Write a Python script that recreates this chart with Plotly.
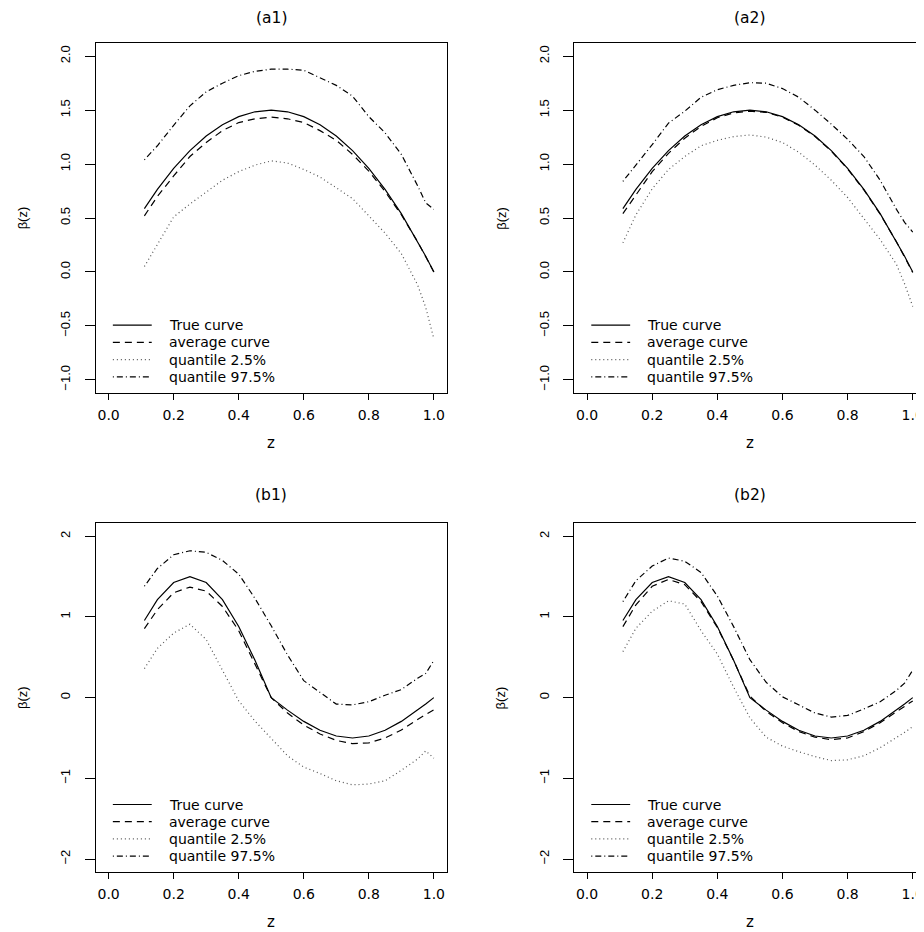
import plotly.graph_objects as go

# ---------------- data ----------------
Z = [0.11, 0.15, 0.20, 0.25, 0.30, 0.35, 0.40, 0.45, 0.50, 0.55,
     0.60, 0.65, 0.70, 0.75, 0.80, 0.85, 0.90, 0.95, 0.975, 1.00]

A_TRUE = [0.587, 0.765, 0.96, 1.125, 1.26, 1.365, 1.44, 1.485, 1.50, 1.485,
          1.44, 1.365, 1.26, 1.125, 0.96, 0.765, 0.54, 0.285, 0.146, 0.0]
A1_AVG = [0.52, 0.70, 0.89, 1.07, 1.20, 1.31, 1.385, 1.42, 1.435, 1.42,
          1.385, 1.31, 1.22, 1.09, 0.935, 0.745, 0.53, 0.28, 0.14, 0.0]
A1_LO = [0.05, 0.26, 0.51, 0.63, 0.74, 0.85, 0.93, 0.99, 1.03, 1.01,
         0.95, 0.88, 0.78, 0.68, 0.52, 0.36, 0.17, -0.12, -0.33, -0.62]
A1_HI = [1.04, 1.17, 1.36, 1.54, 1.67, 1.75, 1.82, 1.86, 1.88, 1.88,
         1.87, 1.80, 1.73, 1.63, 1.44, 1.29, 1.09, 0.80, 0.64, 0.58]

A2_AVG = [0.54, 0.71, 0.93, 1.10, 1.24, 1.35, 1.43, 1.475, 1.49, 1.48,
          1.435, 1.36, 1.255, 1.12, 0.955, 0.76, 0.535, 0.28, 0.14, -0.005]
A2_LO = [0.27, 0.53, 0.77, 0.95, 1.07, 1.17, 1.22, 1.255, 1.27, 1.25,
         1.20, 1.11, 0.99, 0.85, 0.69, 0.50, 0.30, 0.07, -0.11, -0.32]
A2_HI = [0.84, 0.99, 1.18, 1.38, 1.49, 1.62, 1.69, 1.73, 1.755, 1.75,
         1.70, 1.62, 1.50, 1.37, 1.23, 1.07, 0.85, 0.58, 0.46, 0.37]

B_TRUE = [0.956, 1.2135, 1.4266, 1.5, 1.4266, 1.2135, 0.8817, 0.4635, 0.0, -0.1545,
          -0.2939, -0.4045, -0.4755, -0.5, -0.4755, -0.4045, -0.2939, -0.1545, -0.0782, 0.0]
B1_AVG = [0.855, 1.09, 1.30, 1.37, 1.32, 1.13, 0.83, 0.42, 0.0, -0.19,
          -0.34, -0.45, -0.53, -0.57, -0.56, -0.50, -0.40, -0.27, -0.21, -0.15]
B1_LO = [0.36, 0.61, 0.80, 0.91, 0.72, 0.33, -0.04, -0.29, -0.51, -0.72,
         -0.86, -0.94, -1.03, -1.08, -1.07, -1.03, -0.90, -0.76, -0.66, -0.75]
B1_HI = [1.38, 1.60, 1.77, 1.82, 1.80, 1.70, 1.53, 1.23, 0.89, 0.53,
         0.21, 0.06, -0.08, -0.09, -0.05, 0.03, 0.10, 0.24, 0.30, 0.46]

B2_AVG = [0.88, 1.15, 1.38, 1.465, 1.40, 1.19, 0.87, 0.46, 0.02, -0.17,
          -0.31, -0.42, -0.49, -0.52, -0.50, -0.42, -0.31, -0.17, -0.10, -0.04]
B2_LO = [0.57, 0.86, 1.07, 1.20, 1.16, 0.83, 0.54, 0.13, -0.25, -0.49,
         -0.60, -0.67, -0.73, -0.78, -0.77, -0.72, -0.62, -0.50, -0.43, -0.36]
B2_HI = [1.19, 1.45, 1.63, 1.73, 1.69, 1.55, 1.26, 0.88, 0.47, 0.19,
         0.01, -0.09, -0.19, -0.24, -0.22, -0.14, -0.05, 0.09, 0.18, 0.34]

SERIES_NAMES = ["True curve", "average curve", "quantile 2.5%", "quantile 97.5%"]
PANEL_TITLES = ["(a1)", "(a2)", "(b1)", "(b2)"]
X_TICKS = [0.0, 0.2, 0.4, 0.6, 0.8, 1.0]
X_TICK_TEXT = ["0.0", "0.2", "0.4", "0.6", "0.8", "1.0"]
A_Y_TICKS = [-1.0, -0.5, 0.0, 0.5, 1.0, 1.5, 2.0]
A_Y_TICK_TEXT = ["\u22121.0", "\u22120.5", "0.0", "0.5", "1.0", "1.5", "2.0"]
B_Y_TICKS = [-2, -1, 0, 1, 2]
B_Y_TICK_TEXT = ["\u22122", "\u22121", "0", "1", "2"]

# ---------------- layout geometry ----------------
# the page body has an 8px margin, so the figure is offset by 8px
OFF = 8
W, H = 924 - OFF, 932 - OFF
FONT = "DejaVu Sans"
DASHES = ["solid", "7px,5px", "1px,3px", "1px,3px,6px,3px"]
COLORS = ["black", "black", "#555555", "black"]


def px(v):
    return v / W


def py(v):
    return 1 - v / H


panels = [
    dict(series=[A_TRUE, A1_AVG, A1_LO, A1_HI], xbox=(95.9, 448.3), ybox=(43.3, 392.7), ty=17.5,
         xr=[-0.04, 1.04], yr=[-1.12, 2.12], yt=A_Y_TICKS, ytt=A_Y_TICK_TEXT, full=True),
    dict(series=[A_TRUE, A2_AVG, A2_LO, A2_HI], xbox=(575.9, 924.0), ybox=(43.3, 392.7), ty=17.5,
         xr=[-0.04, 1.0254], yr=[-1.12, 2.12], yt=A_Y_TICKS, ytt=A_Y_TICK_TEXT, full=False),
    dict(series=[B_TRUE, B1_AVG, B1_LO, B1_HI], xbox=(95.9, 448.3), ybox=(523.3, 872.0), ty=495.0,
         xr=[-0.04, 1.04], yr=[-2.16, 2.16], yt=B_Y_TICKS, ytt=B_Y_TICK_TEXT, full=True),
    dict(series=[B_TRUE, B2_AVG, B2_LO, B2_HI], xbox=(575.9, 924.0), ybox=(523.3, 872.0), ty=495.0,
         xr=[-0.04, 1.0254], yr=[-2.16, 2.16], yt=B_Y_TICKS, ytt=B_Y_TICK_TEXT, full=False),
]

fig = go.Figure()
layout = dict(
    width=W, height=H, margin=dict(l=0, r=0, t=0, b=0),
    paper_bgcolor="white", plot_bgcolor="white", showlegend=False,
    font=dict(family=FONT, color="black", size=14),
)
annotations = []
shapes = []

for i, p in enumerate(panels):
    k = "" if i == 0 else str(i + 1)
    xa, ya = "x" + k, "y" + k
    x0, x1 = p["xbox"][0] - OFF, min(p["xbox"][1] - OFF, W)
    y0, y1 = p["ybox"][0] - OFF, p["ybox"][1] - OFF
    for j, (name, vals) in enumerate(zip(SERIES_NAMES, p["series"])):
        fig.add_trace(go.Scatter(
            x=Z, y=vals, mode="lines", name=name, xaxis=xa, yaxis=ya,
            line=dict(color=COLORS[j], width=1.2, dash=DASHES[j]),
            hoverinfo="skip",
        ))
        # legend entry (sample line + label), R-style legend inside the box
        ry = y1 - 67.5 + 17.2 * j
        shapes.append(dict(type="line", xref="paper", yref="paper",
                           x0=px(x0 + 17.3), x1=px(x0 + 56.3), y0=py(ry), y1=py(ry),
                           line=dict(color=COLORS[j], width=1.2, dash=DASHES[j])))
        annotations.append(dict(text=name, x=px(x0 + 72.5), y=py(ry), xref="paper", yref="paper",
                                xanchor="left", yanchor="middle", showarrow=False, borderpad=0,
                                font=dict(family=FONT, size=14, color="black")))
    layout["xaxis" + k] = dict(
        domain=[px(x0), px(x1)], range=p["xr"], anchor=ya, showgrid=False, zeroline=False,
        showline=True, linecolor="black", linewidth=1, mirror=True,
        ticks="outside", ticklen=6, tickwidth=1, tickcolor="black",
        tickvals=X_TICKS, ticktext=X_TICK_TEXT, ticklabeloverflow="allow",
        ticklabelstandoff=3,
        tickfont=dict(family=FONT, size=14, color="black"),
    )
    layout["yaxis" + k] = dict(
        domain=[py(y1), py(y0)], range=p["yr"], anchor=xa, showgrid=False, zeroline=False,
        showline=True, linecolor="black", linewidth=1, mirror=p["full"],
        ticks="outside", ticklen=10, tickwidth=1, tickcolor="black",
        tickvals=p["yt"], ticktext=p["ytt"], tickangle=-90, ticklabelstandoff=9,
        tickfont=dict(family="Liberation Sans", size=13, color="black"),
    )
    cx = (x0 + x0 + 352.4) / 2
    annotations.append(dict(text=PANEL_TITLES[i], x=px(cx), y=py(p["ty"] - OFF), xref="paper", yref="paper",
                            xanchor="center", yanchor="middle", showarrow=False, borderpad=0,
                            font=dict(family=FONT, size=15.5, color="black")))
    annotations.append(dict(text="z", x=px(cx), y=py(y1 + 50), xref="paper", yref="paper",
                            xanchor="center", yanchor="middle", showarrow=False,
                            font=dict(family=FONT, size=15, color="black")))
    annotations.append(dict(text="\u03b2(z)", x=px(x0 - 73.5), y=py((y0 + y1) / 2),
                            xref="paper", yref="paper", xanchor="center", yanchor="middle",
                            showarrow=False, textangle=-90,
                            font=dict(family="Liberation Sans", size=13, color="black")))

layout["annotations"] = annotations
layout["shapes"] = shapes
fig.update_layout(**layout)
fig.write_html("out.html")
